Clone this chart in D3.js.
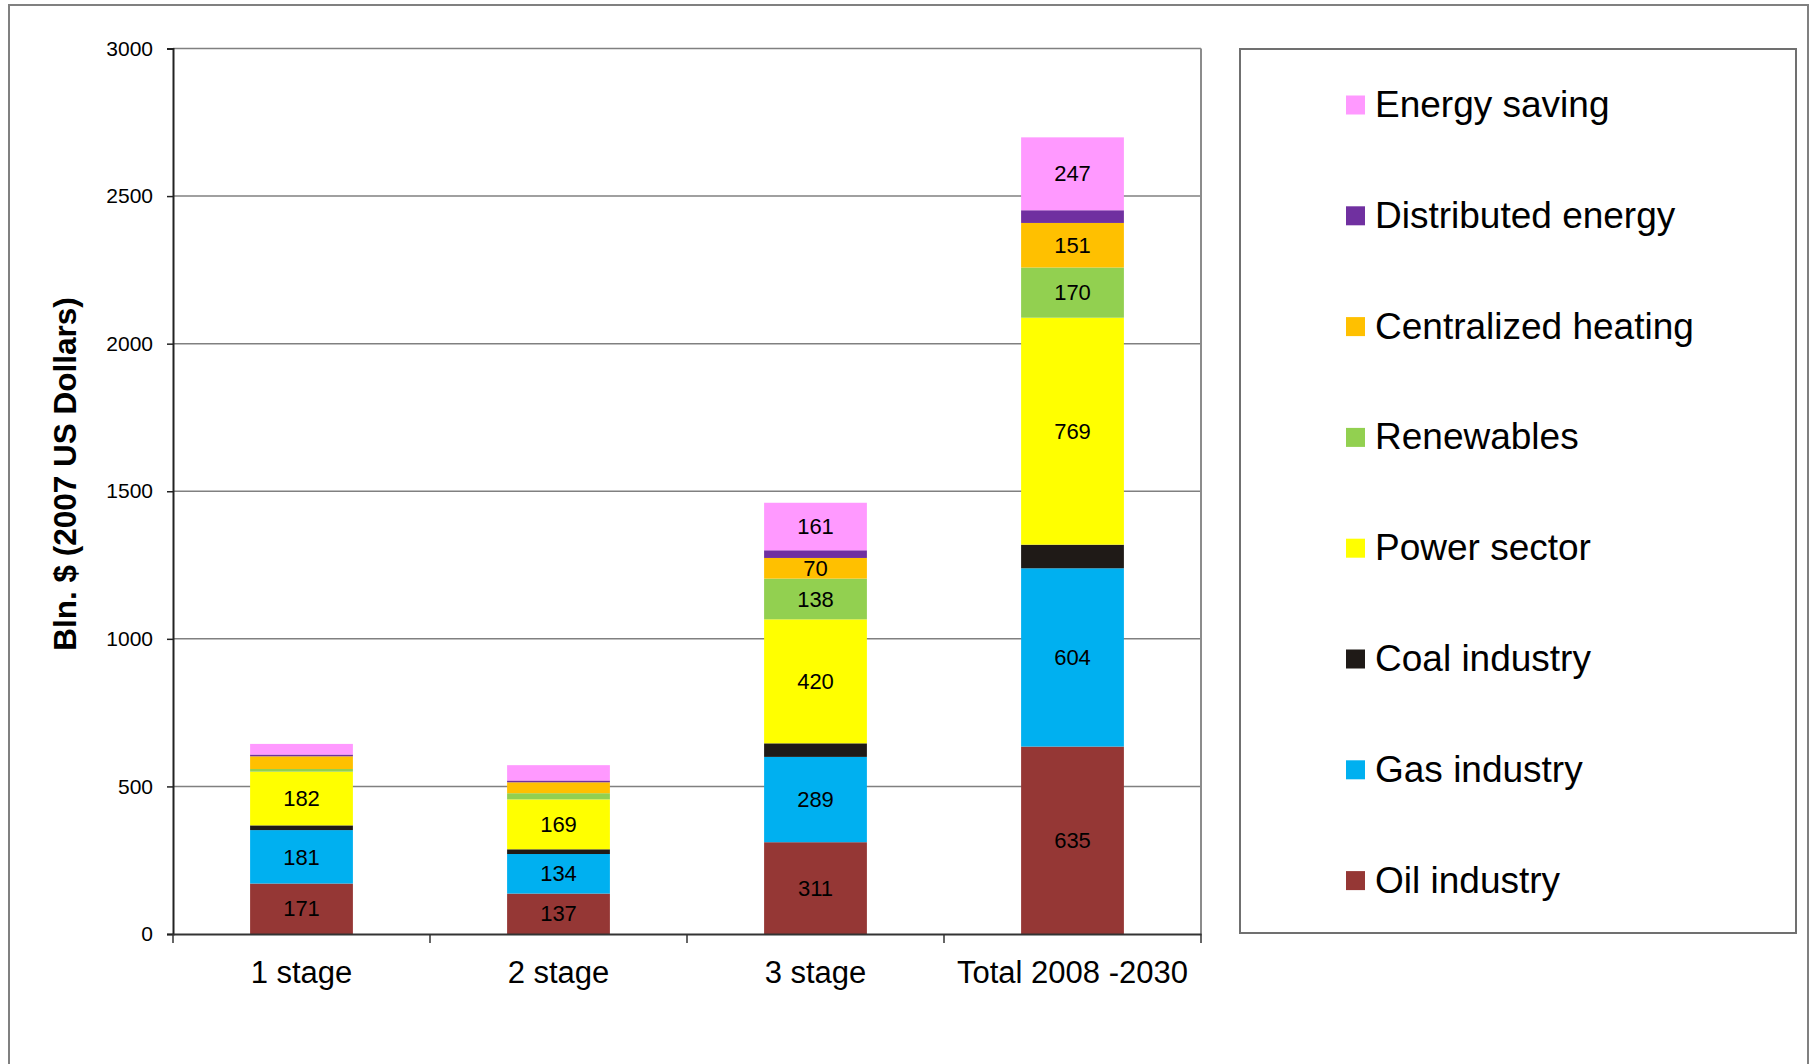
<!DOCTYPE html>
<meta charset="utf-8">
<script src="https://d3js.org/d3.v7.min.js"></script>
<style>
  body { margin: 0; background: #fff; }
  text { font-family: Arial, "Liberation Sans", sans-serif; }
</style>
<div id="chart"></div>
<script>

// categories and series
var stages = ["1 stage", "2 stage", "3 stage", "Total 2008 -2030"];
var seriesNames = ["Oil industry", "Gas industry", "Coal industry", "Power sector",
                   "Renewables", "Centralized heating", "Distributed energy", "Energy saving"];
var seriesColors = ["#953735", "#00B0F0", "#1F1A17", "#FFFF00",
                    "#92D050", "#FFC000", "#7030A0", "#FF99FF"];

// values per series, one per stage (Bln. $)
var oil        = [171, 137, 311, 635];
var gas        = [181, 134, 289, 604];
var coal       = [16, 16, 46, 80];
var power      = [182, 169, 420, 769];
var renewables = [9, 21, 138, 170];
var heating    = [43, 37, 70, 151];
var distrib    = [6, 6, 26, 43];
var saving     = [36, 52, 161, 247];

// which series get data labels
var labelled = [true, true, false, true, true, true, false, true];

var yTicks = [0, 500, 1000, 1500, 2000, 2500, 3000];

var allSeries = [oil, gas, coal, power, renewables, heating, distrib, saving];

var W = 1812, H = 1064;
var margin = {top: 48.5, left: 173, right: 611, bottom: 130};
var width = W - margin.left - margin.right,
    height = H - margin.top - margin.bottom;

var svg = d3.select("#chart").append("svg")
    .attr("width", W).attr("height", H);

// outer frame
svg.append("rect")
    .attr("x", 9).attr("y", 5)
    .attr("width", 1799).attr("height", 1100)
    .attr("fill", "none").attr("stroke", "#808080").attr("stroke-width", 2);

var g = svg.append("g")
    .attr("transform", "translate(" + margin.left + "," + margin.top + ")");

var x = d3.scaleBand().domain(stages).range([0, width]).padding(0);
var y = d3.scaleLinear().domain([0, 3000]).range([height, 0]);

// gridlines
g.selectAll(".grid")
  .data(yTicks.slice(1))
  .enter().append("line")
    .attr("x1", 0).attr("x2", width)
    .attr("y1", function(d) { return y(d); })
    .attr("y2", function(d) { return y(d); })
    .attr("stroke", "#808080").attr("stroke-width", 1.5);

// right plot edge
g.append("line")
    .attr("x1", width).attr("x2", width)
    .attr("y1", 0).attr("y2", height)
    .attr("stroke", "#8c8c8c").attr("stroke-width", 2);

// stack the data
var rows = stages.map(function(s, i) {
  var r = {stage: s};
  seriesNames.forEach(function(n, k) { r[n] = allSeries[k][i]; });
  return r;
});
var stacked = d3.stack().keys(seriesNames)(rows);

var barW = x.bandwidth() * 0.4;
var layers = g.selectAll(".layer")
  .data(stacked)
  .enter().append("g")
    .attr("fill", function(d, k) { return seriesColors[k]; });

layers.selectAll("rect")
  .data(function(d) { return d; })
  .enter().append("rect")
    .attr("x", function(d) { return x(d.data.stage) + (x.bandwidth() - barW) / 2; })
    .attr("y", function(d) { return y(d[1]); })
    .attr("width", barW)
    .attr("height", function(d) { return y(d[0]) - y(d[1]); });

// data labels
layers.each(function(layer, k) {
  if (!labelled[k]) return;
  d3.select(this).selectAll("text")
    .data(layer.filter(function(d) { return d[1] - d[0] >= 60; }))
    .enter().append("text")
      .attr("x", function(d) { return x(d.data.stage) + x.bandwidth() / 2; })
      .attr("y", function(d) { return y((d[0] + d[1]) / 2); })
      .attr("dy", "0.35em")
      .attr("text-anchor", "middle")
      .attr("fill", "#000")
      .style("font-size", "22px")
      .text(function(d) { return d[1] - d[0]; });
});

// y axis
var yAxis = g.append("g")
    .call(d3.axisLeft(y).tickValues(yTicks).tickFormat(d3.format("d")).tickSize(6).tickPadding(14));
yAxis.selectAll("text").style("font-size", "21px").attr("fill", "#000");
yAxis.select(".domain").attr("stroke", "#222").attr("stroke-width", 2);
yAxis.selectAll(".tick line").attr("stroke", "#222").attr("stroke-width", 1.5);

// x axis
var xAxis = g.append("g")
    .attr("transform", "translate(0," + height + ")")
    .call(d3.axisBottom(x).tickSize(0).tickPadding(27));
xAxis.select(".domain").attr("stroke", "#333").attr("stroke-width", 2);
xAxis.selectAll("text").style("font-size", "31px").attr("fill", "#000").attr("dy", "0.71em");

// ticks between categories
g.append("g").selectAll("line")
  .data(d3.range(stages.length + 1))
  .enter().append("line")
    .attr("x1", function(i) { return i * x.step(); })
    .attr("x2", function(i) { return i * x.step(); })
    .attr("y1", height).attr("y2", height + 9)
    .attr("stroke", "#333").attr("stroke-width", 1.5);

// y axis title
svg.append("text")
    .attr("transform", "translate(76,474) rotate(-90)")
    .attr("text-anchor", "middle")
    .style("font-size", "31.5px").style("font-weight", "bold")
    .text("Bln. $ (2007 US Dollars)");

// legend
svg.append("rect")
    .attr("x", 1240).attr("y", 49)
    .attr("width", 556).attr("height", 884)
    .attr("fill", "none").attr("stroke", "#707070").attr("stroke-width", 2);

var legendOrder = d3.range(seriesNames.length).reverse();
var legend = svg.append("g").selectAll("g")
  .data(legendOrder)
  .enter().append("g")
    .attr("transform", function(k, i) { return "translate(1346," + (105 + i * 110.8) + ")"; });

legend.append("rect")
    .attr("x", 0).attr("y", -9.5)
    .attr("width", 19).attr("height", 19)
    .attr("fill", function(k) { return seriesColors[k]; });

legend.append("text")
    .attr("x", 29).attr("y", -1).attr("dy", "0.35em")
    .style("font-size", "37px")
    .text(function(k) { return seriesNames[k]; });

</script>
